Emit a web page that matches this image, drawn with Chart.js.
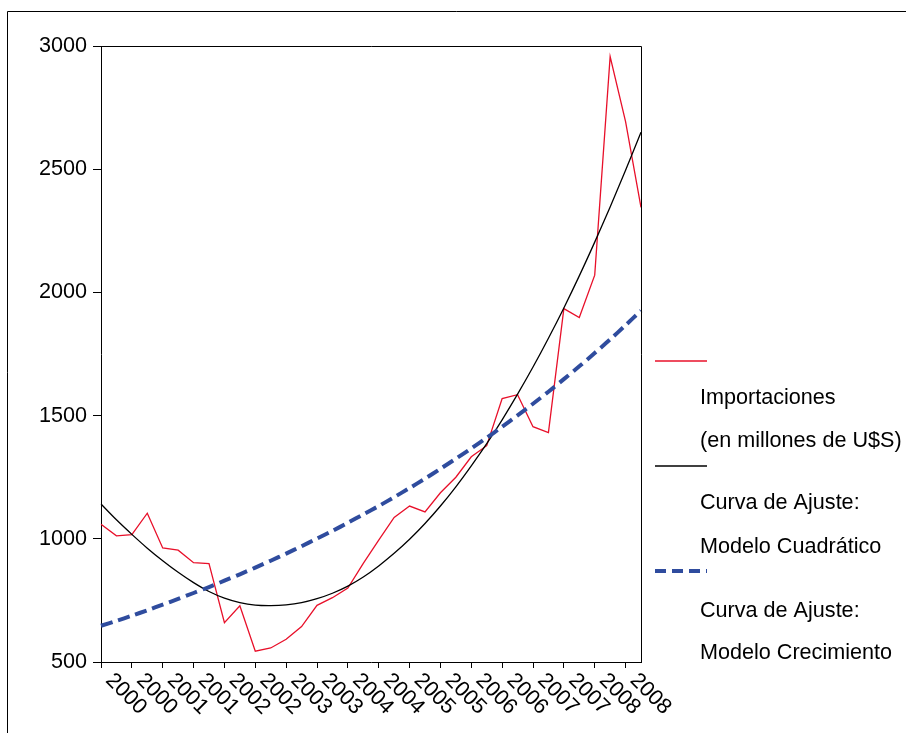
<!DOCTYPE html>
<html>
<head>
<meta charset="utf-8">
<script src="https://cdn.jsdelivr.net/npm/chart.js@4/dist/chart.umd.min.js"></script>
<style>
  html, body { margin: 0; padding: 0; background: #fff; }
  canvas { display: block; }
</style>
</head>
<body>
<canvas id="importChart" width="906" height="733"></canvas>
<script>
// quarters 2000 Q1 .. 2008 Q4, label shown every second quarter
const years = [
    '2000', '2000', '2000', '2000', '2001', '2001', '2001', '2001',
    '2002', '2002', '2002', '2002', '2003', '2003', '2003', '2003',
    '2004', '2004', '2004', '2004', '2005', '2005', '2005', '2005',
    '2006', '2006', '2006', '2006', '2007', '2007', '2007', '2007',
    '2008', '2008', '2008', '2008'
];

// Importaciones (en millones de U$S)
const importaciones = [
    1059, 1012, 1017, 1104, 963, 954, 903, 899,
    660, 728, 544, 557, 592, 644, 730, 761,
    800, 900, 995, 1087, 1133, 1109, 1187, 1250,
    1333, 1378, 1569, 1585, 1455, 1431, 1934, 1898,
    2070, 2957, 2693, 2345
];

// Curva de Ajuste: Modelo Cuadratico
const cuadratico = [
    1141, 1077, 1018, 962, 911, 864, 822, 786,
    759, 741, 731, 729, 732, 741, 757, 779,
    808, 845, 890, 941, 998, 1062, 1133, 1211,
    1296, 1386, 1483, 1587, 1697, 1814, 1937, 2067,
    2204, 2347, 2496, 2650
];

// Curva de Ajuste: Modelo Crecimiento
const crecimiento = [
    647, 667, 688, 710, 733, 756, 780, 804,
    830, 856, 883, 911, 940, 970, 1001, 1032,
    1065, 1099, 1133, 1169, 1206, 1244, 1284, 1325,
    1367, 1410, 1455, 1501, 1548, 1597, 1648, 1700,
    1754, 1809, 1867, 1926
];

const yTicks = [500, 1000, 1500, 2000, 2500, 3000];

const legendItems = [
    { color: '#E8102A', width: 1.3, dash: [], lines: ['Importaciones', '(en millones de U$S)'] },
    { color: '#000000', width: 1.3, dash: [], lines: ['Curva de Ajuste:', 'Modelo Cuadrático'] },
    { color: '#2F4C9E', width: 4, dash: [11, 6], lines: ['Curva de Ajuste:', 'Modelo Crecimiento'] }
];

const FONT_FAMILY = '"Liberation Sans", Arial, sans-serif';
const FONT = '21.6px ' + FONT_FAMILY;

// frame, slanted year labels and the legend on the right
const decorPlugin = {
    id: 'decor',
    afterDraw(chart) {
        const ctx = chart.ctx;
        const area = chart.chartArea;
        const xScale = chart.scales.x;

        ctx.save();
        ctx.strokeStyle = '#000';
        ctx.lineWidth = 1;

        // outer frame (left + top)
        ctx.beginPath();
        ctx.moveTo(7.5, 733);
        ctx.lineTo(7.5, 11.5);
        ctx.lineTo(906, 11.5);
        ctx.stroke();

        // plot box top + right
        ctx.beginPath();
        ctx.moveTo(area.left, area.top + 0.5);
        ctx.lineTo(area.right + 0.5, area.top + 0.5);
        ctx.lineTo(area.right + 0.5, area.bottom);
        ctx.stroke();

        // year labels, rotated 45 deg downwards
        ctx.fillStyle = '#000';
        ctx.font = FONT;
        ctx.textAlign = 'left';
        ctx.textBaseline = 'middle';
        years.forEach((y, i) => {
            if (i % 2 !== 0) return;
            const px = xScale.getPixelForValue(i);
            ctx.save();
            ctx.translate(px + 8, area.bottom + 15);
            ctx.rotate(Math.PI / 4);
            ctx.fillText(y, 0, 0);
            ctx.restore();
        });

        // legend
        const sampleY = [361, 466, 571];
        const textY = [[398, 441], [503, 547], [611, 653]];
        legendItems.forEach((item, k) => {
            ctx.save();
            ctx.strokeStyle = item.color;
            ctx.lineWidth = item.width;
            ctx.setLineDash(item.dash);
            ctx.beginPath();
            ctx.moveTo(655, sampleY[k]);
            ctx.lineTo(707, sampleY[k]);
            ctx.stroke();
            ctx.restore();
            item.lines.forEach((t, j) => {
                ctx.fillText(t, 700, textY[k][j]);
            });
        });

        ctx.restore();
    }
};

new Chart(document.getElementById('importChart'), {
    type: 'line',
    data: {
        labels: years,
        datasets: [
            {
                label: 'Importaciones (en millones de U$S)',
                data: importaciones,
                borderColor: '#E8102A',
                borderWidth: 1.3,
                pointRadius: 0,
                tension: 0,
                order: 3
            },
            {
                label: 'Curva de Ajuste: Modelo Cuadrático',
                data: cuadratico,
                borderColor: '#000000',
                borderWidth: 1.3,
                pointRadius: 0,
                tension: 0.3,
                order: 2
            },
            {
                label: 'Curva de Ajuste: Modelo Crecimiento',
                data: crecimiento,
                borderColor: '#2F4C9E',
                borderWidth: 4,
                borderDash: [12, 6],
                pointRadius: 0,
                tension: 0.3,
                order: 1
            }
        ]
    },
    options: {
        responsive: false,
        animation: false,
        layout: {
            padding: { top: 46, right: 265, bottom: 0, left: 0 }
        },
        plugins: {
            legend: { display: false },
            tooltip: { enabled: false }
        },
        scales: {
            x: {
                type: 'category',
                offset: false,
                border: { color: '#000', width: 1 },
                grid: {
                    drawOnChartArea: false,
                    drawTicks: true,
                    tickLength: 6,
                    tickColor: (c) => (c.index % 2 === 0 ? '#000' : 'rgba(0,0,0,0)')
                },
                ticks: {
                    autoSkip: false,
                    maxRotation: 0,
                    callback: () => ''
                },
                afterFit: (scale) => { scale.height = 71; }
            },
            y: {
                min: 500,
                max: 3000,
                border: { color: '#000', width: 1 },
                grid: {
                    drawOnChartArea: false,
                    drawTicks: true,
                    tickLength: 8,
                    tickColor: '#000'
                },
                afterBuildTicks: (scale) => {
                    scale.ticks = yTicks.map(v => ({ value: v }));
                },
                ticks: {
                    color: '#000',
                    padding: 6,
                    font: { family: FONT_FAMILY, size: 21.6 },
                    callback: (v) => String(v)
                },
                afterFit: (scale) => { scale.width = 101; }
            }
        }
    },
    plugins: [decorPlugin]
});
</script>
</body>
</html>
